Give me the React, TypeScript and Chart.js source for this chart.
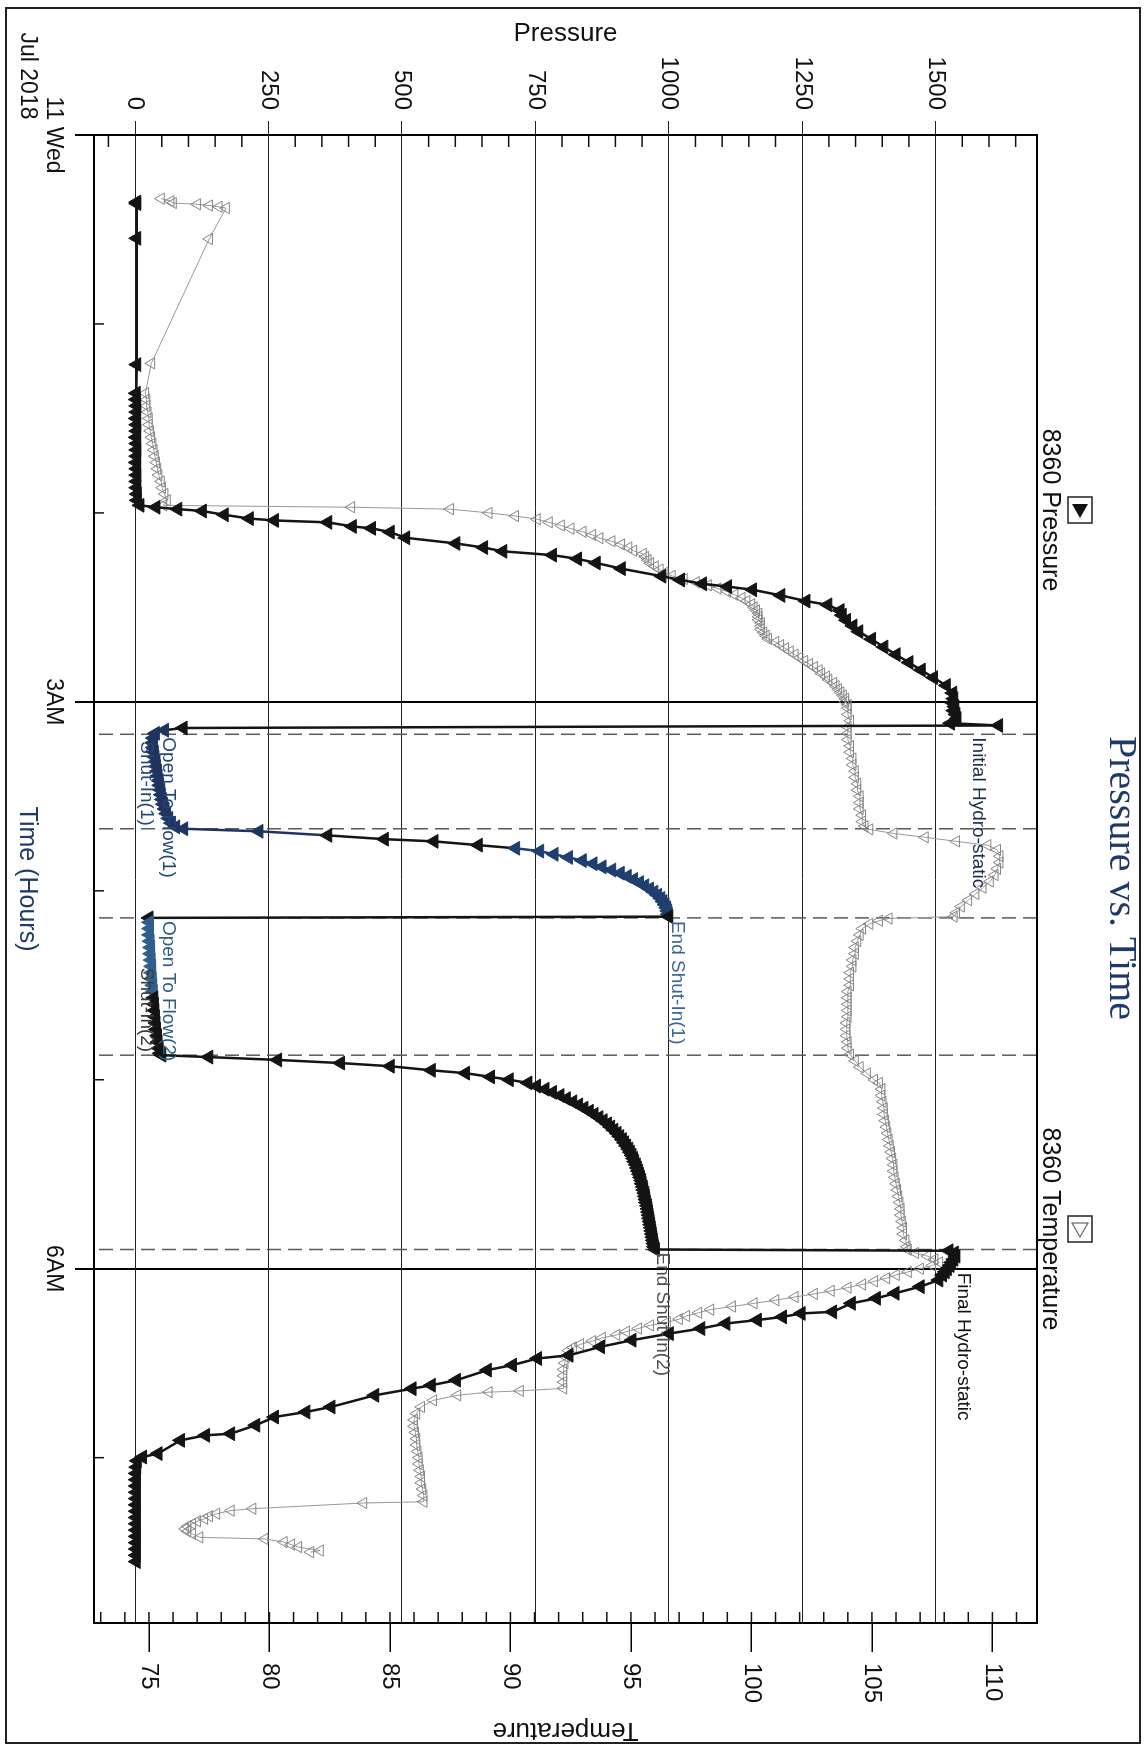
import React, { useEffect, useRef } from "react";
import { Chart, registerables } from "chart.js";

Chart.register(...registerables);

// ---------- text ----------
const CHART_TITLE = "Pressure vs. Time";
const PRESSURE_LABEL = "8360 Pressure";
const TEMP_LABEL = "8360 Temperature";
const X_TITLE = "Time (Hours)";
const Y_TITLE = "Pressure";
const Y2_TITLE = "Temperature";
const DATE_SECOND_LINE = "Jul 2018";

// ---------- axes (time in minutes after midnight, 11 Jul 2018) ----------
const TIME_MIN = 0;
const TIME_MAX = 472.5;
const TIME_TICKS = [0, 180, 360];
const TIME_TICK_LABELS = ["11 Wed", "3AM", "6AM"];
const TIME_MINOR_TICKS = [60, 120, 240, 300, 420];

const PRESSURE_MIN = -77;
const PRESSURE_MAX = 1690;
const PRESSURE_TICKS = [0, 250, 500, 750, 1000, 1250, 1500];

const TEMP_MIN = 72.72;
const TEMP_MAX = 111.85;
const TEMP_TICKS = [75, 80, 85, 90, 95, 100, 105, 110];

// ---------- events ----------
const EVENT_LINE_TIMES = [190.3, 220.3, 248.6, 292.2, 353.9];
const EVENT_LABELS = [
  "Initial Hydro-static",
  "Open To Flow(1)",
  "Shut-In(1)",
  "End Shut-In(1)",
  "Open To Flow(2)",
  "Shut-In(2)",
  "End Shut-In(2)",
  "Final Hydro-static",
];
const EVENT_LABEL_TIMES = [190.3, 190.3, 220.3, 248.6, 248.6, 292.2, 353.9, 360.3];
const EVENT_LABEL_PRESSURES = [1579, 62, 21, 1016, 62, 21, 988, 1551];

// ---------- pressure series ----------
const pressureTime = [
  21.3, 21.8, 32.8, 72.9,
  82, 84, 86, 88, 90, 92, 94, 96, 98, 100, 102, 104, 106, 108, 110, 112, 114, 116,
  117.6, 118.2, 118.8, 119.4, 120.6, 121.8, 122.4, 123.0, 124.3, 124.9, 126.1, 127.9,
  129.7, 131.0, 132.2, 133.4, 134.6, 135.9, 137.7, 140.1, 141.3, 142.5, 143.4, 144.4,
  146.2, 148.0, 149.2, 151.0, 152.5, 154.1, 155.9, 157.7, 160.1, 162.6, 165.0, 167.5,
  169.9, 172.3, 174.8, 177.2, 179.0, 180.3, 181.5, 182.8, 184.0, 185.3, 186.8, 187.5, 188.3,
  189.0, 190.0, 191.5, 193.0, 194.5, 196.0, 197.5, 199.0, 200.5, 202.0, 203.5, 205.0,
  206.5, 208.0, 209.5, 211.0, 212.5, 214.0, 215.5, 217.0, 218.5, 219.7,
  220.3, 221.1, 222.4, 223.6, 224.3, 225.5, 226.5, 227.4, 228.4, 229.4, 230.4, 231.4,
  232.4, 233.4, 234.4, 235.4, 236.4, 237.4, 238.4, 239.4, 240.4, 241.4, 242.4, 243.4,
  244.4, 245.4, 246.4, 247.4, 248.2, 248.6,
  250, 252, 254, 256, 258, 260, 262, 264, 266, 268, 270, 272, 274, 276, 278, 280, 282,
  284, 286, 288, 290, 291.6,
  292.2, 292.8, 293.7, 294.7, 295.7, 297.0, 297.9, 299.1, 300.0, 301.0,
  302, 303, 304, 305, 306, 307, 308, 309, 310, 311, 312, 313, 314, 315, 316, 317, 318,
  319, 320, 321, 322, 323, 324, 325, 326, 327, 328, 329, 330, 331, 332, 333, 334, 335,
  336, 337, 338, 339, 340, 341, 342, 343, 344, 345, 346, 347, 348, 349, 350, 351, 352,
  353, 353.9,
  354.3, 355.0, 356.0, 357.0, 358.0, 359.0, 360.0, 361.0, 362.0, 363.6, 365.7, 367.8,
  369.4, 371.0, 373.7, 374.2, 375.3, 376.3, 377.4, 379.0, 380.6, 382.7, 384.8, 387.5,
  388.5, 390.6, 392.2, 395.4, 397.0, 398.1, 400.2, 403.9, 405.5, 407.1, 409.7, 412.4,
  412.9, 414.5, 418.7, 419.8,
  421, 423, 425, 427, 429, 431, 433, 435, 437, 439, 441, 443, 445, 447, 449, 451, 453,
];
const pressureValue = [
  3, 3, 3, 3,
  2, 2, 3, 3, 2, 3, 3, 2, 3, 3, 3, 2, 3, 3, 3, 3, 4, 4,
  9, 39, 80, 126, 167, 214, 261, 361, 407, 443, 478, 507,
  601, 653, 689, 782, 829, 864, 911, 987, 1022, 1063, 1110, 1157,
  1210, 1257, 1298, 1321, 1325, 1333, 1345, 1356, 1380, 1403, 1426, 1450,
  1473, 1496, 1520, 1532, 1534, 1532, 1536, 1534, 1538, 1540, 1528, 1618, 90,
  55, 38, 34, 33, 34, 36, 37, 39, 40, 42, 43, 45,
  46, 48, 49, 51, 53, 56, 59, 63, 68, 76,
  91, 232, 361, 467, 560, 643, 713, 758, 785, 812, 838, 858,
  875, 893, 909, 922, 934, 945, 955, 964, 972, 979, 985, 989,
  993, 996, 998, 999, 1000, 26,
  27, 27, 27, 28, 29, 29, 30, 31, 31, 32, 33, 34, 35, 36, 37, 38, 39,
  40, 42, 43, 45, 47,
  50, 138, 267, 385, 478, 555, 619, 666, 701, 736,
  752, 768, 782, 796, 808, 820, 831, 841, 851, 860, 869, 877, 885, 891, 897, 903, 908,
  913, 917, 921, 925, 928, 931, 934, 936, 939, 941, 943, 945, 947, 949, 950, 952, 953,
  955, 956, 957, 958, 960, 961, 962, 963, 964, 965, 966, 967, 968, 969, 970, 971, 972,
  973, 975,
  1525, 1535, 1538, 1534, 1530, 1527, 1522, 1518, 1513, 1506, 1471, 1424,
  1389, 1342, 1307, 1248, 1213, 1166, 1107, 1060, 1001, 931, 872, 813,
  754, 707, 660, 602, 555, 519, 449, 367, 320, 261, 226, 179,
  132, 85, 43, 14,
  4, 3, 2, 2, 2, 2, 2, 2, 2, 2, 2, 2, 2, 2, 2, 2, 2,
];

// ---------- temperature series ----------
const temperatureTime = [
  20.2, 21.0, 21.6, 22.0, 22.4, 22.8, 23.2, 33.0, 72.5,
  82, 84, 86, 88, 90, 92, 94, 96, 98, 100, 102, 104, 106, 108, 110, 112, 114, 116,
  117.6, 118.2, 118.8,
  120, 121, 122, 123, 124, 125, 126, 127, 128, 129, 130, 131, 132, 133, 134, 135, 136,
  137, 138, 139, 140, 141, 142, 143, 144, 145, 146, 147, 148, 149, 150, 151, 152, 153,
  154, 155, 156, 157, 158, 159, 160, 161, 162, 163, 164, 165, 166, 167, 168, 169, 170,
  171, 172, 173, 174, 175, 176, 177, 178, 179, 180, 181, 182,
  184, 186, 188, 190, 192, 194, 196, 198, 200, 202, 204, 206, 208, 210, 212, 214, 216,
  218, 219.5,
  220.5, 221.8, 223.0, 224.3, 225.5, 227, 229, 231, 233, 235, 237, 239, 241, 243, 245,
  247, 248.2,
  248.8, 249.5, 250.5, 252, 254, 256, 258, 260, 262, 264, 266, 268, 270, 272, 274, 276,
  278, 280, 282, 284, 286, 288, 290, 292, 294, 296, 298, 300, 301,
  303, 305, 307, 309, 311, 313, 315, 317, 319, 321, 323, 325, 327, 329, 331, 333, 335,
  337, 339, 341, 343, 345, 347, 349, 351, 353, 354,
  355, 356, 357, 358, 359, 360, 361, 362, 363, 364, 365, 366, 367, 368, 369, 370, 371,
  372, 373, 374, 375, 376, 377, 378, 379, 380, 381, 382, 383, 384, 385, 386, 388, 390,
  392, 394, 396, 398,
  398.8, 399.2, 400.2, 401.8, 403.9,
  406, 408, 410, 412, 414, 416, 418, 420, 422, 424, 426, 428, 430, 432, 434,
  434.4, 436.2, 436.8, 437.8, 438.6, 439.4, 440.2, 441.0, 441.8, 442.6, 443.4, 444.2,
  445.3, 445.8, 446.8, 447.6, 448.4, 449.5, 450.0,
];
const temperatureValue = [
  75.5, 75.9, 76.0, 77.0, 77.5, 77.9, 78.2, 77.5, 75.1,
  74.85, 74.9, 74.9, 74.95, 75.0, 75.0, 75.05, 75.1, 75.15, 75.2, 75.25, 75.3, 75.35,
  75.4, 75.5, 75.55, 75.65, 75.75,
  75.6, 83.4, 87.5,
  89.1, 90.2, 91.1, 91.6, 92.1, 92.5, 93.0, 93.4, 93.7, 94.2, 94.6, 94.9, 95.1, 95.5,
  95.6, 95.7, 95.8,
  96.0, 96.2, 96.4, 96.7, 97.2, 97.7, 98.2, 98.6, 99.0, 99.3, 99.6, 99.8, 100.0, 100.1,
  100.2, 100.3, 100.3,
  100.3, 100.4, 100.4, 100.4, 100.5, 100.6, 100.7, 101.0, 101.2, 101.4, 101.6, 101.8,
  102.0, 102.2, 102.4, 102.6, 102.8,
  102.9, 103.1, 103.2, 103.4, 103.5, 103.6, 103.7, 103.8, 103.9, 103.9, 104.0, 104.0,
  104.0, 104.1, 104.0, 104.0, 104.0, 104.1, 104.1, 104.2, 104.2, 104.3, 104.3, 104.4,
  104.4, 104.5, 104.5, 104.5, 104.6,
  104.6, 104.7,
  104.9, 105.9, 107.2, 108.5, 109.8, 110.2, 110.3, 110.3, 110.2, 110.1, 109.9, 109.6,
  109.3, 109.0, 108.7,
  108.5, 108.4,
  105.7, 105.3, 104.9, 104.6, 104.5, 104.4, 104.3, 104.3, 104.2, 104.2, 104.1, 104.1,
  104.1, 104.0, 104.0, 104.0,
  104.0, 104.0, 103.95, 103.95, 103.95, 104.0, 104.0, 104.1, 104.3, 104.5, 104.8, 105.1,
  105.3,
  105.4, 105.4, 105.45, 105.5, 105.5, 105.55, 105.6, 105.65, 105.7, 105.75, 105.8,
  105.85, 105.9, 105.9, 105.95, 106.0, 106.05,
  106.1, 106.15, 106.2, 106.2, 106.25, 106.3, 106.3, 106.4, 106.45, 106.5,
  106.8, 107.3, 107.6, 107.8, 107.5, 107.0, 106.5, 106.0, 105.6, 105.1, 104.6, 104.0,
  103.3, 102.6, 101.8, 101.0, 100.1,
  99.2, 98.3, 97.8, 97.3, 97.0, 96.5, 95.8, 95.3, 94.8, 94.4, 93.8, 93.4, 92.9, 92.6,
  92.4, 92.3, 92.25,
  92.2, 92.2, 92.2, 92.2,
  90.4, 89.1, 87.8, 86.8, 86.3,
  86.1, 86.0, 86.0, 86.05, 86.1, 86.1, 86.15, 86.2, 86.2, 86.25, 86.3, 86.3, 86.35,
  86.4, 86.4,
  83.9, 79.3, 78.4, 77.8, 77.5, 77.3, 77.0, 76.8, 76.6, 76.5, 76.6, 76.8,
  77.1, 79.8, 80.6, 80.9, 81.2, 82.1, 81.7,
];

// ---------- styling ----------
const SANS = "'Liberation Sans', Arial, sans-serif";
const SERIF = "'Liberation Serif', 'Times New Roman', serif";
const NAVY = "#1f3a68";
const EVENT_LABEL_ALIGN = ["left", "left", "right", "left", "left", "right", "left", "left"];
const EVENT_LABEL_COLORS = ["#1c2b4d", "#24467a", "#24467a", "#3a6594", "#2f5b86", "#3a3a3a", "#505050", "#111111"];

function pressureColor(t: number): string {
  if (t >= 188.4 && t <= 221.2) return "#1f355f";
  if (t >= 226.4 && t <= 248.1) return "#1f3f6e";
  if (t >= 248.8 && t <= 272) return "#2f5f8c";
  return "#141414";
}

function strokeLine(ctx: CanvasRenderingContext2D, x1: number, y1: number, x2: number, y2: number) {
  ctx.beginPath();
  ctx.moveTo(x1, y1);
  ctx.lineTo(x2, y2);
  ctx.stroke();
}

const overlayPlugin = {
  id: "overlay",
  beforeDraw(chart: any) {
    const { ctx, width, height } = chart;
    ctx.save();
    ctx.fillStyle = "#ffffff";
    ctx.fillRect(0, 0, width, height);
    ctx.restore();
  },
  beforeDatasetsDraw(chart: any) {
    const { ctx, chartArea: a, scales } = chart;
    const xs = scales.x;
    const ys = scales.y;
    const yt = scales.y2;
    ctx.save();
    ctx.strokeStyle = "#5a5a5a";
    ctx.lineWidth = 1.5;
    ctx.setLineDash([14, 7]);
    for (const t of EVENT_LINE_TIMES) {
      const x = xs.getPixelForValue(t);
      strokeLine(ctx, x, a.top, x, a.bottom);
    }
    ctx.setLineDash([]);
    ctx.strokeStyle = "#111";
    ctx.lineWidth = 1.5;
    for (let v = -50; v <= 1650; v += 50) {
      if (v % 250 === 0) continue;
      const y = ys.getPixelForValue(v);
      strokeLine(ctx, a.left, y, a.left + 12, y);
    }
    for (const m of TIME_MINOR_TICKS) {
      const x = xs.getPixelForValue(m);
      strokeLine(ctx, x, a.bottom, x, a.bottom - 10);
    }
    for (let v = 73; v <= 111; v += 1) {
      const y = yt.getPixelForValue(v);
      strokeLine(ctx, a.right - 11, y, a.right, y);
    }
    ctx.restore();
  },
  afterDatasetsDraw(chart: any) {
    const { ctx, scales } = chart;
    const xs = scales.x;
    const ys = scales.y;
    ctx.save();
    ctx.font = `19px ${SANS}`;
    ctx.textBaseline = "middle";
    EVENT_LABELS.forEach((txt, i) => {
      const x = xs.getPixelForValue(EVENT_LABEL_TIMES[i]);
      const y = ys.getPixelForValue(EVENT_LABEL_PRESSURES[i]);
      const align = EVENT_LABEL_ALIGN[i] as CanvasTextAlign;
      ctx.textAlign = align;
      ctx.fillStyle = EVENT_LABEL_COLORS[i];
      ctx.fillText(txt, align === "left" ? x + 3 : x - 3, y);
    });
    ctx.restore();
  },
  afterDraw(chart: any) {
    const { ctx, chartArea: a, scales } = chart;
    const xs = scales.x;
    ctx.save();
    ctx.strokeStyle = "#000";
    ctx.lineWidth = 2;
    ctx.strokeRect(a.left, a.top, a.right - a.left, a.bottom - a.top);
    ctx.strokeStyle = "#222";
    ctx.lineWidth = 2;
    ctx.strokeRect(8, 8, 1735, 1134);
    ctx.fillStyle = NAVY;
    ctx.font = `40px ${SERIF}`;
    ctx.textAlign = "center";
    ctx.textBaseline = "alphabetic";
    ctx.fillText(CHART_TITLE, 878, 38);
    const items: [number, boolean, string][] = [
      [510, true, PRESSURE_LABEL],
      [1229, false, TEMP_LABEL],
    ];
    for (const [cx, filled, text] of items) {
      ctx.strokeStyle = "#222";
      ctx.lineWidth = 1.5;
      ctx.strokeRect(cx - 13, 56, 26, 24);
      ctx.beginPath();
      ctx.moveTo(cx + 8, 68);
      ctx.lineTo(cx - 6, 60);
      ctx.lineTo(cx - 6, 76);
      ctx.closePath();
      if (filled) {
        ctx.fillStyle = "#111";
        ctx.fill();
      } else {
        ctx.strokeStyle = "#666";
        ctx.lineWidth = 1.2;
        ctx.stroke();
      }
      ctx.fillStyle = "#111";
      ctx.font = `25px ${SANS}`;
      ctx.textAlign = "center";
      ctx.textBaseline = "alphabetic";
      ctx.fillText(text, cx, 105);
    }
    ctx.fillStyle = "#111";
    ctx.font = `23px ${SANS}`;
    ctx.textAlign = "center";
    ctx.textBaseline = "middle";
    ctx.fillText(DATE_SECOND_LINE, xs.getPixelForValue(TIME_MIN) - 59, 1121);
    ctx.restore();
  },
};

export default function App() {
  const canvasRef = useRef<HTMLCanvasElement | null>(null);

  useEffect(() => {
    const canvas = canvasRef.current;
    if (!canvas) return;
    const pressureData = pressureTime.map((t, i) => ({ x: t, y: pressureValue[i] }));
    const temperatureData = temperatureTime.map((t, i) => ({ x: t, y: temperatureValue[i] }));

    const chart = new Chart(canvas, {
      type: "line",
      data: {
        datasets: [
          {
            label: PRESSURE_LABEL,
            data: pressureData,
            yAxisID: "y",
            borderColor: "#141414",
            borderWidth: 2.5,
            pointStyle: "triangle",
            pointRotation: 180,
            pointRadius: 8,
            pointBorderWidth: 1,
            pointBackgroundColor: (ctx: any) => pressureColor(ctx.raw ? ctx.raw.x : 0),
            pointBorderColor: (ctx: any) => pressureColor(ctx.raw ? ctx.raw.x : 0),
            segment: {
              borderColor: (ctx: any) => pressureColor(ctx.p0.parsed.x),
            },
            tension: 0,
            order: 0,
          },
          {
            label: TEMP_LABEL,
            data: temperatureData,
            yAxisID: "y2",
            borderColor: "#9a9a9a",
            borderWidth: 1,
            pointStyle: "triangle",
            pointRotation: 180,
            pointRadius: 6.5,
            pointBorderWidth: 1,
            pointBackgroundColor: "rgba(255,255,255,0)",
            pointBorderColor: "#858585",
            tension: 0,
            order: 1,
          },
        ],
      } as any,
      options: {
        animation: false,
        responsive: false,
        layout: { padding: { top: 111, left: 0, right: 0, bottom: 0 } },
        plugins: {
          legend: { display: false },
          tooltip: { enabled: false },
          title: { display: false },
        },
        scales: {
          x: {
            type: "linear",
            position: "bottom",
            min: TIME_MIN,
            max: TIME_MAX,
            afterBuildTicks: (s: any) => {
              s.ticks = TIME_TICKS.map((v) => ({ value: v }));
            },
            afterFit: (s: any) => {
              s.height = 94;
            },
            ticks: {
              autoSkip: false,
              maxRotation: 0,
              minRotation: 0,
              padding: 8,
              color: "#111",
              font: { family: SANS, size: 23 },
              callback: (v: any) => {
                const i = TIME_TICKS.indexOf(Number(v));
                return i >= 0 ? TIME_TICK_LABELS[i] : "";
              },
            },
            grid: { color: "#000", lineWidth: 2, tickLength: 19, drawTicks: true },
            border: { display: true, color: "#000", width: 2 },
            title: {
              display: true,
              text: X_TITLE,
              color: NAVY,
              font: { family: SANS, size: 25 },
              padding: { top: 0, bottom: 12 },
            },
          },
          y: {
            type: "linear",
            position: "left",
            min: PRESSURE_MIN,
            max: PRESSURE_MAX,
            afterBuildTicks: (s: any) => {
              s.ticks = PRESSURE_TICKS.map((v) => ({ value: v }));
            },
            afterFit: (s: any) => {
              s.width = 135;
            },
            ticks: {
              padding: 11,
              color: "#111",
              font: { family: SANS, size: 24 },
              callback: (v: any) => String(v),
            },
            grid: { color: "#222", lineWidth: 1, tickLength: 14 },
            border: { display: true, color: "#000", width: 2 },
            title: {
              display: true,
              text: Y_TITLE,
              color: "#111",
              font: { family: SANS, size: 26 },
              padding: { top: 18, bottom: 0 },
            },
          },
          y2: {
            type: "linear",
            position: "right",
            min: TEMP_MIN,
            max: TEMP_MAX,
            afterBuildTicks: (s: any) => {
              s.ticks = TEMP_TICKS.map((v) => ({ value: v }));
            },
            afterFit: (s: any) => {
              s.width = 125;
            },
            ticks: {
              padding: 11,
              color: "#111",
              font: { family: SANS, size: 24 },
              callback: (v: any) => String(v),
            },
            grid: { drawOnChartArea: false, color: "#000", lineWidth: 1.5, tickLength: 29 },
            border: { display: true, color: "#000", width: 2 },
            title: {
              display: true,
              text: Y2_TITLE,
              color: "#111",
              font: { family: SANS, size: 26 },
              padding: { top: 2, bottom: 0 },
            },
          },
        },
      } as any,
      plugins: [overlayPlugin],
    });
    return () => chart.destroy();
  }, []);

  return (
    <div
      style={{
        position: "absolute",
        left: 0,
        top: 0,
        width: 1748,
        height: 1148,
        transformOrigin: "0 0",
        transform: "translate(1148px, 0px) rotate(90deg)",
        background: "#fff",
      }}
    >
      <canvas
        ref={canvasRef}
        width={1748}
        height={1148}
        style={{ display: "block", width: 1748, height: 1148 }}
      />
    </div>
  );
}
